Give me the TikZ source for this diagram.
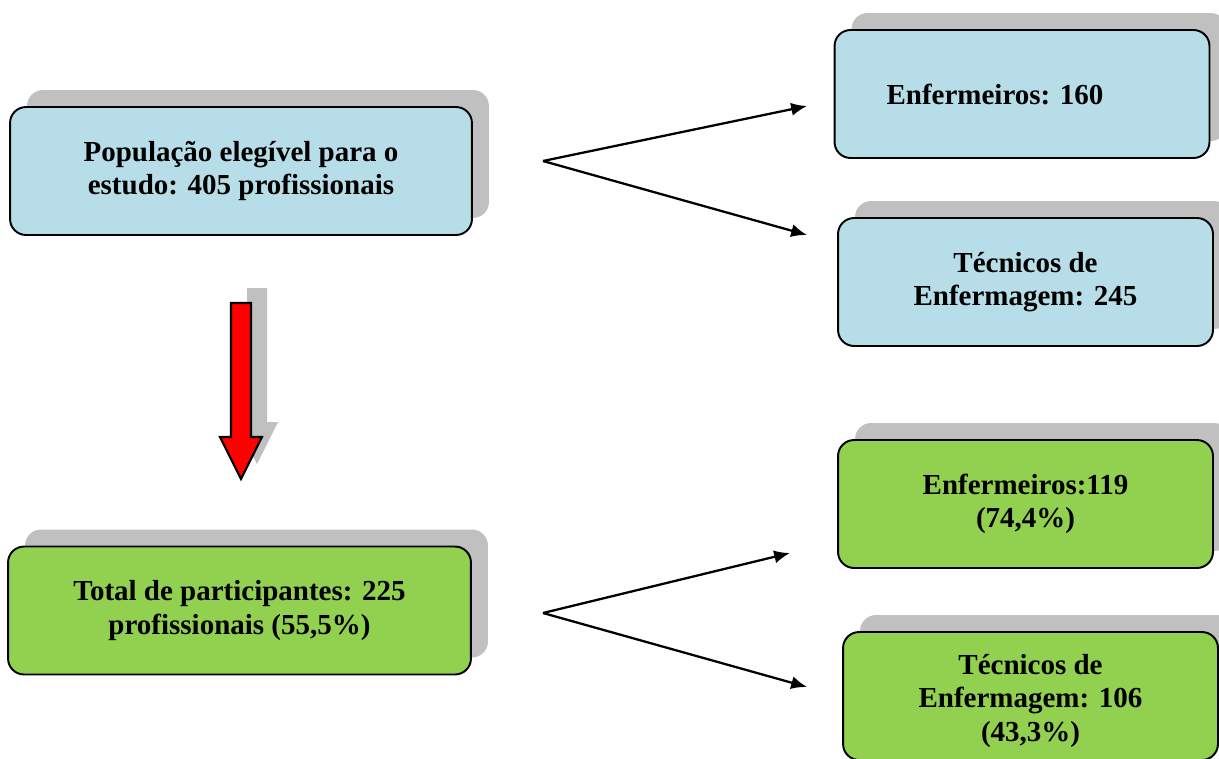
\documentclass[tikz,border=0pt]{standalone}
\usepackage{fontspec}
\setmainfont{Liberation Serif}
\usepackage{xcolor}
\usepackage{tikz}
\usetikzlibrary{shapes,arrows,arrows.meta,positioning,calc,shadows}

\definecolor{azulclaro}{RGB}{183,222,232}
\definecolor{verdeclaro}{RGB}{146,208,80}
\definecolor{sombra}{RGB}{192,192,192}

\begin{document}
\begin{tikzpicture}[x=0.02cm, y=-0.02cm, >=latex']
    \tikzstyle{caixa} = [rectangle, draw=black, line width=1.1pt, rounded corners=0.32cm, align=center, minimum width=7.5cm, minimum height=2.56cm, font=\fontsize{16.5}{19}\selectfont\bfseries, drop shadow={shadow xshift=0.34cm, shadow yshift=0.34cm, opacity=1, fill=sombra}]
    \tikzstyle{azul} = [caixa, fill=azulclaro]
    \tikzstyle{verde} = [caixa, fill=verdeclaro]
    \tikzstyle{seta} = [draw, -{Latex[length=9pt, width=7.5pt]}, line width=1.3pt]

    \useasboundingbox (0,0) rectangle (1219,758);

    \node [azul, minimum width=9.24cm] (pop) at (241,171) {População elegível para o\\estudo: 405 profissionais};
    \node [azul] (enf) at (1022,94) {Enfermeiros: 160\hspace*{1.08cm}};
    \node [azul] (tec) at (1025.5,282) {Técnicos de\\Enfermagem: 245};

    \node [verde, minimum width=9.26cm] (tot) at (239.5,610.5) {Total de participantes: 225\\profissionais (55,5\%)};
    \node [verde] (enfp) at (1025.5,504) {Enfermeiros:119\\(74,4\%)};
    \node [verde] (tecp) at (1030.5,696) {\\[-2pt]Técnicos de\\Enfermagem: 106\\(43,3\%)};

    \coordinate (bifa) at (543,161);
    \coordinate (enfa) at (807,106);
    \coordinate (teca) at (807,235);
    \coordinate (bifb) at (543,613);
    \coordinate (enfb) at (790,553);
    \coordinate (tecb) at (807,687);

    \draw [seta] (bifa) -- (enfa);
    \draw [seta] (bifa) -- (teca);
    \draw [seta] (bifb) -- (enfb);
    \draw [seta] (bifb) -- (tecb);

    \filldraw [fill=red, draw=black, line width=1.2pt, drop shadow={shadow xshift=0.32cm, shadow yshift=0.3cm, opacity=1, fill=sombra}]
        (231,303) -- (251,303) -- (251,437) -- (262,437) -- (241,479) -- (220,437) -- (231,437) -- cycle;
\end{tikzpicture}
\end{document}
